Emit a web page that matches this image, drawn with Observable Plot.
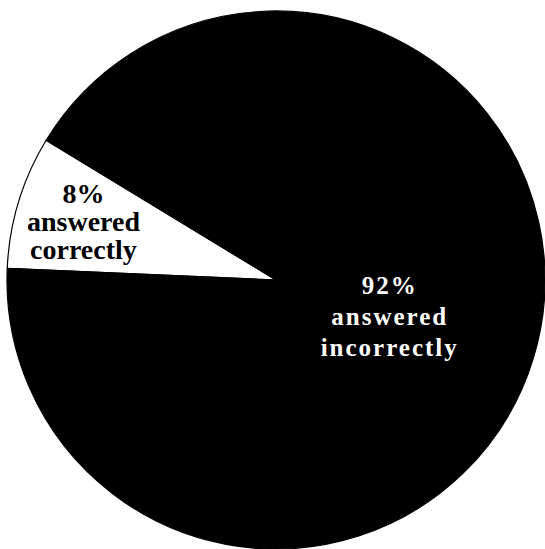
<!DOCTYPE html>
<html>
<head>
<meta charset="utf-8">
<script src="https://cdn.jsdelivr.net/npm/d3@7"></script>
<script src="https://cdn.jsdelivr.net/npm/@observablehq/plot@0.6"></script>
<style>
  html, body { margin: 0; padding: 0; background: #fff; }
  #chart svg { display: block; }
  #chart g[fill="white"] text { letter-spacing: 2px; }
</style>
</head>
<body>
<div id="chart"></div>
<script>
// Survey outcome shares (percent)
const categories = ["answered correctly", "answered incorrectly"];
const values = [8, 92];
const labels = ["8%\nanswered\ncorrectly", "92%\nanswered\nincorrectly"];

const slices = categories.map((c, i) => ({ category: c, value: values[i], label: labels[i] }));

// Pie layout: the small slice sits just above the 9 o'clock position
const start = (272.5 / 180) * Math.PI;
const arcs = d3.pie()
  .sort(null)
  .value(d => d.value)
  .startAngle(start)
  .endAngle(start + 2 * Math.PI)(slices);

const fills = ["white", "black"];
const labelRadius = [0.75, 0.44];

// Label anchors at each slice's mid-angle, in unit-circle data coordinates
const labelData = arcs.map((a, i) => {
  const mid = (a.startAngle + a.endAngle) / 2;
  return {
    label: a.data.label,
    x: labelRadius[i] * Math.sin(mid),
    y: labelRadius[i] * Math.cos(mid)
  };
});

// Custom render mark drawing the wedges with d3.arc, sized by the x/y scales
function pieMark(index, scales) {
  const cx = scales.x(0), cy = scales.y(0);
  const r = scales.x(1) - scales.x(0);
  const arc = d3.arc().innerRadius(0).outerRadius(r);
  const g = d3.create("svg:g").attr("transform", `translate(${cx},${cy})`);
  g.selectAll("path")
    .data(arcs)
    .join("path")
    .attr("d", arc)
    .attr("fill", (d, i) => fills[i])
    .attr("stroke", "black")
    .attr("stroke-width", 1.2);
  return g.node();
}

const plot = Plot.plot({
  width: 545,
  height: 549,
  marginLeft: 7,
  marginRight: 0,
  marginTop: 11,
  marginBottom: 0,
  x: { domain: [-1, 1], axis: null },
  y: { domain: [-1, 1], axis: null },
  style: { background: "white" },
  marks: [
    pieMark,
    Plot.text([labelData[0]], {
      x: "x", y: "y", text: "label",
      fill: "black",
      fontSize: 28,
      fontWeight: "bold",
      fontFamily: "Liberation Serif, Times New Roman, serif",
      lineHeight: 1.0
    }),
    Plot.text([labelData[1]], {
      x: "x", y: "y", text: "label",
      fill: "white",
      fontSize: 25,
      fontWeight: "bold",
      fontFamily: "Liberation Serif, Times New Roman, serif",
      lineHeight: 1.26
    })
  ]
});

document.getElementById("chart").append(plot);
</script>
</body>
</html>
